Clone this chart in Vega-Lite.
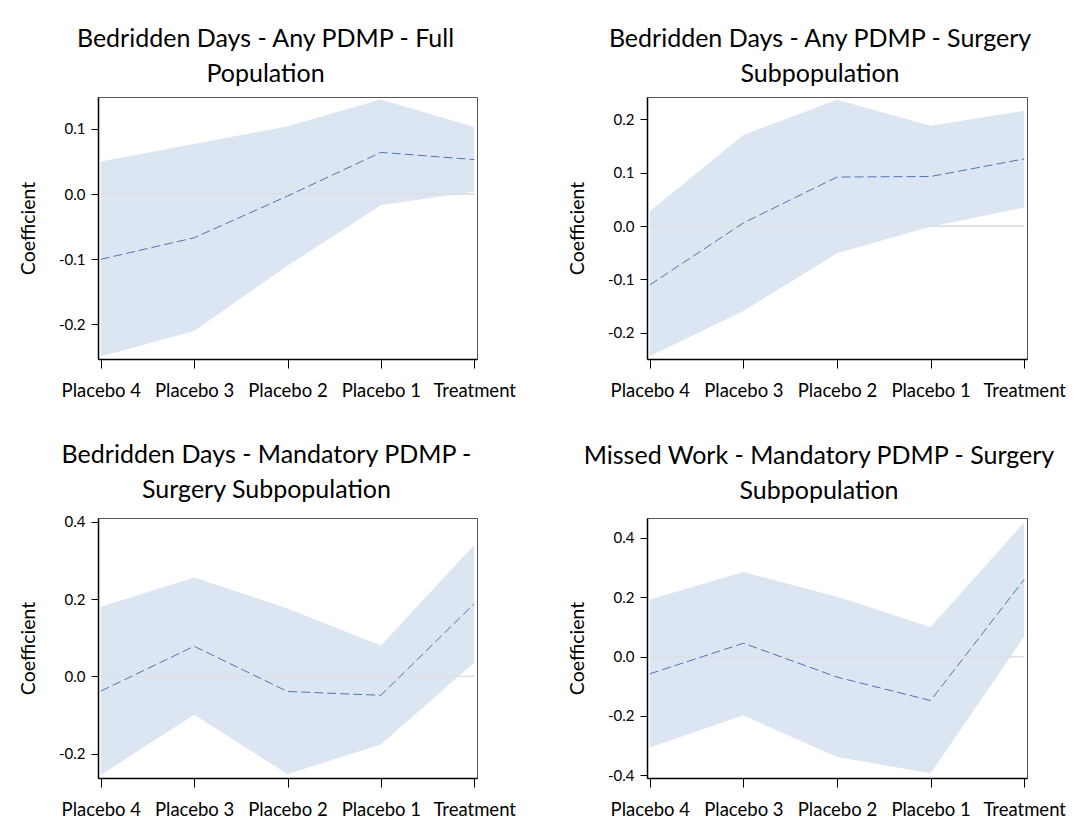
{
  "$schema": "https://vega.github.io/schema/vega-lite/v6.json",
  "background": "white",
  "padding": {"left": 17, "top": 26, "right": 5, "bottom": 5},
  "datasets": {
    "coef": [
      {"panel": "A", "period": "Placebo 4", "estimate": -0.100, "lower": -0.249, "upper": 0.050},
      {"panel": "A", "period": "Placebo 3", "estimate": -0.067, "lower": -0.210, "upper": 0.077},
      {"panel": "A", "period": "Placebo 2", "estimate": -0.003, "lower": -0.110, "upper": 0.104},
      {"panel": "A", "period": "Placebo 1", "estimate": 0.064, "lower": -0.017, "upper": 0.145},
      {"panel": "A", "period": "Treatment", "estimate": 0.053, "lower": 0.004, "upper": 0.103},
      {"panel": "B", "period": "Placebo 4", "estimate": -0.110, "lower": -0.244, "upper": 0.028},
      {"panel": "B", "period": "Placebo 3", "estimate": 0.006, "lower": -0.159, "upper": 0.171},
      {"panel": "B", "period": "Placebo 2", "estimate": 0.092, "lower": -0.051, "upper": 0.237},
      {"panel": "B", "period": "Placebo 1", "estimate": 0.093, "lower": -0.001, "upper": 0.188},
      {"panel": "B", "period": "Treatment", "estimate": 0.126, "lower": 0.035, "upper": 0.216},
      {"panel": "C", "period": "Placebo 4", "estimate": -0.038, "lower": -0.255, "upper": 0.180},
      {"panel": "C", "period": "Placebo 3", "estimate": 0.078, "lower": -0.099, "upper": 0.256},
      {"panel": "C", "period": "Placebo 2", "estimate": -0.039, "lower": -0.253, "upper": 0.176},
      {"panel": "C", "period": "Placebo 1", "estimate": -0.049, "lower": -0.176, "upper": 0.080},
      {"panel": "C", "period": "Treatment", "estimate": 0.188, "lower": 0.036, "upper": 0.340},
      {"panel": "D", "period": "Placebo 4", "estimate": -0.058, "lower": -0.306, "upper": 0.192},
      {"panel": "D", "period": "Placebo 3", "estimate": 0.045, "lower": -0.198, "upper": 0.285},
      {"panel": "D", "period": "Placebo 2", "estimate": -0.069, "lower": -0.338, "upper": 0.202},
      {"panel": "D", "period": "Placebo 1", "estimate": -0.148, "lower": -0.393, "upper": 0.100},
      {"panel": "D", "period": "Treatment", "estimate": 0.260, "lower": 0.067, "upper": 0.452}
    ]
  },
  "columns": 2,
  "spacing": {"row": 42, "column": 50},
  "resolve": {"scale": {"y": "independent", "x": "independent"}},
  "concat": [
    {
      "title": {"text": ["Bedridden Days - Any PDMP - Full", "Population"], "dx": -22},
      "width": 379, "height": 262,
      "data": {"name": "coef"},
      "transform": [{"filter": "datum.panel === 'A'"}],
      "encoding": {
        "x": {"field": "period", "type": "ordinal", "sort": ["Placebo 4", "Placebo 3", "Placebo 2", "Placebo 1", "Treatment"], "scale": {"type": "point", "padding": 0.03}, "title": null}
      },
      "layer": [
        {"mark": {"type": "area", "color": "#dce6f2"}, "encoding": {"y": {"field": "lower", "type": "quantitative", "scale": {"domain": [-0.253, 0.149], "nice": false, "zero": false}, "axis": {"values": [-0.2, -0.1, 0, 0.1]}, "title": "Coefficient"}, "y2": {"field": "upper"}}},
        {"mark": {"type": "rule", "color": "#dde1e6", "strokeWidth": 1}, "encoding": {"y": {"datum": 0}, "x": {"datum": "Placebo 4"}, "x2": {"datum": "Treatment"}}},
        {"mark": {"type": "line", "color": "#4f74b3", "strokeWidth": 1, "strokeDash": [9, 4]}, "encoding": {"y": {"field": "estimate", "type": "quantitative"}}}
      ]
    },
    {
      "title": {"text": ["Bedridden Days - Any PDMP - Surgery", "Subpopulation"], "dx": -17},
      "width": 380, "height": 262,
      "data": {"name": "coef"},
      "transform": [{"filter": "datum.panel === 'B'"}],
      "encoding": {
        "x": {"field": "period", "type": "ordinal", "sort": ["Placebo 4", "Placebo 3", "Placebo 2", "Placebo 1", "Treatment"], "scale": {"type": "point", "padding": 0.03}, "title": null}
      },
      "layer": [
        {"mark": {"type": "area", "color": "#dce6f2"}, "encoding": {"y": {"field": "lower", "type": "quantitative", "scale": {"domain": [-0.249, 0.242], "nice": false, "zero": false}, "axis": {"values": [-0.2, -0.1, 0, 0.1, 0.2]}, "title": "Coefficient"}, "y2": {"field": "upper"}}},
        {"mark": {"type": "rule", "color": "#dde1e6", "strokeWidth": 1}, "encoding": {"y": {"datum": 0}, "x": {"datum": "Placebo 4"}, "x2": {"datum": "Treatment"}}},
        {"mark": {"type": "line", "color": "#4f74b3", "strokeWidth": 1, "strokeDash": [9, 4]}, "encoding": {"y": {"field": "estimate", "type": "quantitative"}}}
      ]
    },
    {
      "title": {"text": ["Bedridden Days - Mandatory PDMP -", "Surgery Subpopulation"], "offset": 12, "dx": -21},
      "width": 379, "height": 260,
      "data": {"name": "coef"},
      "transform": [{"filter": "datum.panel === 'C'"}],
      "encoding": {
        "x": {"field": "period", "type": "ordinal", "sort": ["Placebo 4", "Placebo 3", "Placebo 2", "Placebo 1", "Treatment"], "scale": {"type": "point", "padding": 0.03}, "title": null}
      },
      "layer": [
        {"mark": {"type": "area", "color": "#dce6f2"}, "encoding": {"y": {"field": "lower", "type": "quantitative", "scale": {"domain": [-0.263, 0.41], "nice": false, "zero": false}, "axis": {"values": [-0.2, 0, 0.2, 0.4]}, "title": "Coefficient"}, "y2": {"field": "upper"}}},
        {"mark": {"type": "rule", "color": "#dde1e6", "strokeWidth": 1}, "encoding": {"y": {"datum": 0}, "x": {"datum": "Placebo 4"}, "x2": {"datum": "Treatment"}}},
        {"mark": {"type": "line", "color": "#4f74b3", "strokeWidth": 1, "strokeDash": [9, 4]}, "encoding": {"y": {"field": "estimate", "type": "quantitative"}}}
      ]
    },
    {
      "title": {"text": ["Missed Work - Mandatory PDMP - Surgery", "Subpopulation"], "offset": 14, "dx": -18},
      "width": 380, "height": 260,
      "data": {"name": "coef"},
      "transform": [{"filter": "datum.panel === 'D'"}],
      "encoding": {
        "x": {"field": "period", "type": "ordinal", "sort": ["Placebo 4", "Placebo 3", "Placebo 2", "Placebo 1", "Treatment"], "scale": {"type": "point", "padding": 0.03}, "title": null}
      },
      "layer": [
        {"mark": {"type": "area", "color": "#dce6f2"}, "encoding": {"y": {"field": "lower", "type": "quantitative", "scale": {"domain": [-0.409, 0.467], "nice": false, "zero": false}, "axis": {"values": [-0.4, -0.2, 0, 0.2, 0.4]}, "title": "Coefficient"}, "y2": {"field": "upper"}}},
        {"mark": {"type": "rule", "color": "#dde1e6", "strokeWidth": 1}, "encoding": {"y": {"datum": 0}, "x": {"datum": "Placebo 4"}, "x2": {"datum": "Treatment"}}},
        {"mark": {"type": "line", "color": "#4f74b3", "strokeWidth": 1, "strokeDash": [9, 4]}, "encoding": {"y": {"field": "estimate", "type": "quantitative"}}}
      ]
    }
  ],
  "config": {
    "font": "Lato",
    "view": {"stroke": "#555555", "strokeWidth": 1},
    "title": {"font": "Lato", "fontSize": 25, "fontWeight": "normal", "color": "#000000", "anchor": "middle", "lineHeight": 35, "offset": 10},
    "axis": {"grid": false, "domainColor": "#000000", "tickColor": "#000000", "labelColor": "#000000", "titleColor": "#000000", "labelFont": "Lato", "titleFont": "Lato", "titleFontWeight": "normal"},
    "axisX": {"labelFontSize": 18.5, "labelAngle": 0, "tickSize": 9, "labelPadding": 13, "domainWidth": 1.5},
    "axisY": {"labelFontSize": 15, "titleFontSize": 19.5, "tickSize": 7, "labelPadding": 6, "titlePadding": 20, "domainWidth": 1.5, "labelExpr": "replace(format(datum.value, '.1f'), '\u2212', '-')"}
  }
}
